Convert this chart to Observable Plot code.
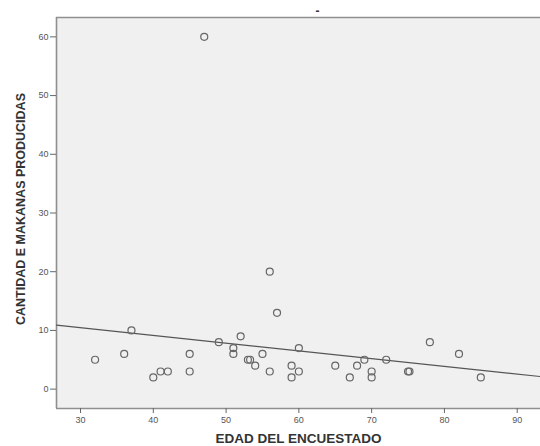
<!DOCTYPE html>
<html>
<head>
<meta charset="utf-8">
<script src="https://cdn.jsdelivr.net/npm/d3@7"></script>
<script src="https://cdn.jsdelivr.net/npm/@observablehq/plot@0.6"></script>
<style>
  html, body { margin: 0; padding: 0; background: white; }
</style>
</head>
<body>
<div id="chart"></div>
<script>
// Data (age vs. quantity produced)
const ages = [32, 36, 37, 40, 41, 42, 45, 45, 47, 49, 51, 51, 52, 53, 53.3, 54, 55, 56, 56, 57,
              59, 59, 60, 60, 65, 67, 68, 69, 70, 70, 72, 75, 75.2, 78, 82, 85];
const quantities = [5, 6, 10, 2, 3, 3, 6, 3, 60, 8, 7, 6, 9, 5, 5, 4, 6, 3, 20, 13,
                    4, 2, 7, 3, 4, 2, 4, 5, 3, 2, 5, 3, 3, 8, 6, 2];
const xTicks = [30, 40, 50, 60, 70, 80, 90];
const yTicks = [0, 10, 20, 30, 40, 50, 60];
const xTitle = "EDAD DEL ENCUESTADO";
const yTitle = "CANTIDAD E MAKANAS PRODUCIDAS";
const chartTitle = "-";

const xDomain = [26.7, 93.2];
const yDomain = [-3.3, 63.3];

const points = ages.map((a, i) => ({age: a, qty: quantities[i]}));

// Least-squares fit line across the full frame
const mx = d3.mean(ages), my = d3.mean(quantities);
const slope = d3.sum(ages, (x, i) => (x - mx) * (quantities[i] - my)) / d3.sum(ages, x => (x - mx) ** 2);
const intercept = my - slope * mx;
const fit = xDomain.map(x => ({age: x, qty: intercept + slope * x}));

const frameColor = "#8f8f8f";

const chart = Plot.plot({
  width: 540,
  height: 446,
  marginLeft: 56,
  marginRight: 0,
  marginTop: 17,
  marginBottom: 38,
  style: {fontFamily: "'Liberation Sans', Arial, sans-serif", fontSize: "9px", color: "#555", background: "white"},
  x: {domain: xDomain, ticks: xTicks},
  y: {domain: yDomain, ticks: yTicks},
  marks: [
    Plot.frame({fill: "#f0f0f0", stroke: null}),
    Plot.ruleX([xDomain[0]], {stroke: frameColor, strokeWidth: 1.6}),
    Plot.ruleY([yDomain[0], yDomain[1]], {stroke: frameColor, strokeWidth: 1.6}),
    Plot.axisX({ticks: xTicks, tickSize: 5, tickPadding: 3, stroke: "#666", fill: "#555", label: null}),
    Plot.axisY({ticks: yTicks, tickSize: 6, tickPadding: 2, stroke: "#666", fill: "#555", label: null}),
    Plot.line(fit, {x: "age", y: "qty", stroke: "#555", strokeWidth: 1.2}),
    Plot.dot(points, {x: "age", y: "qty", r: 3.5, stroke: "#666", strokeWidth: 1.2, fill: "none"}),
    Plot.text([xTitle], {frameAnchor: "bottom", lineAnchor: "middle", dy: 30, fontWeight: "bold", fontSize: 13.5, fill: "#333"}),
    Plot.text([yTitle], {frameAnchor: "left", rotate: -90, textAnchor: "middle", lineAnchor: "middle", dx: -36, dy: -4, fontWeight: "bold", fontSize: 12.5, fill: "#333"}),
    Plot.text([chartTitle], {frameAnchor: "top", lineAnchor: "middle", dx: 19, dy: -6, fontWeight: "bold", fontSize: 12, fill: "#333"})
  ]
});
document.getElementById("chart").appendChild(chart);
</script>
</body>
</html>
